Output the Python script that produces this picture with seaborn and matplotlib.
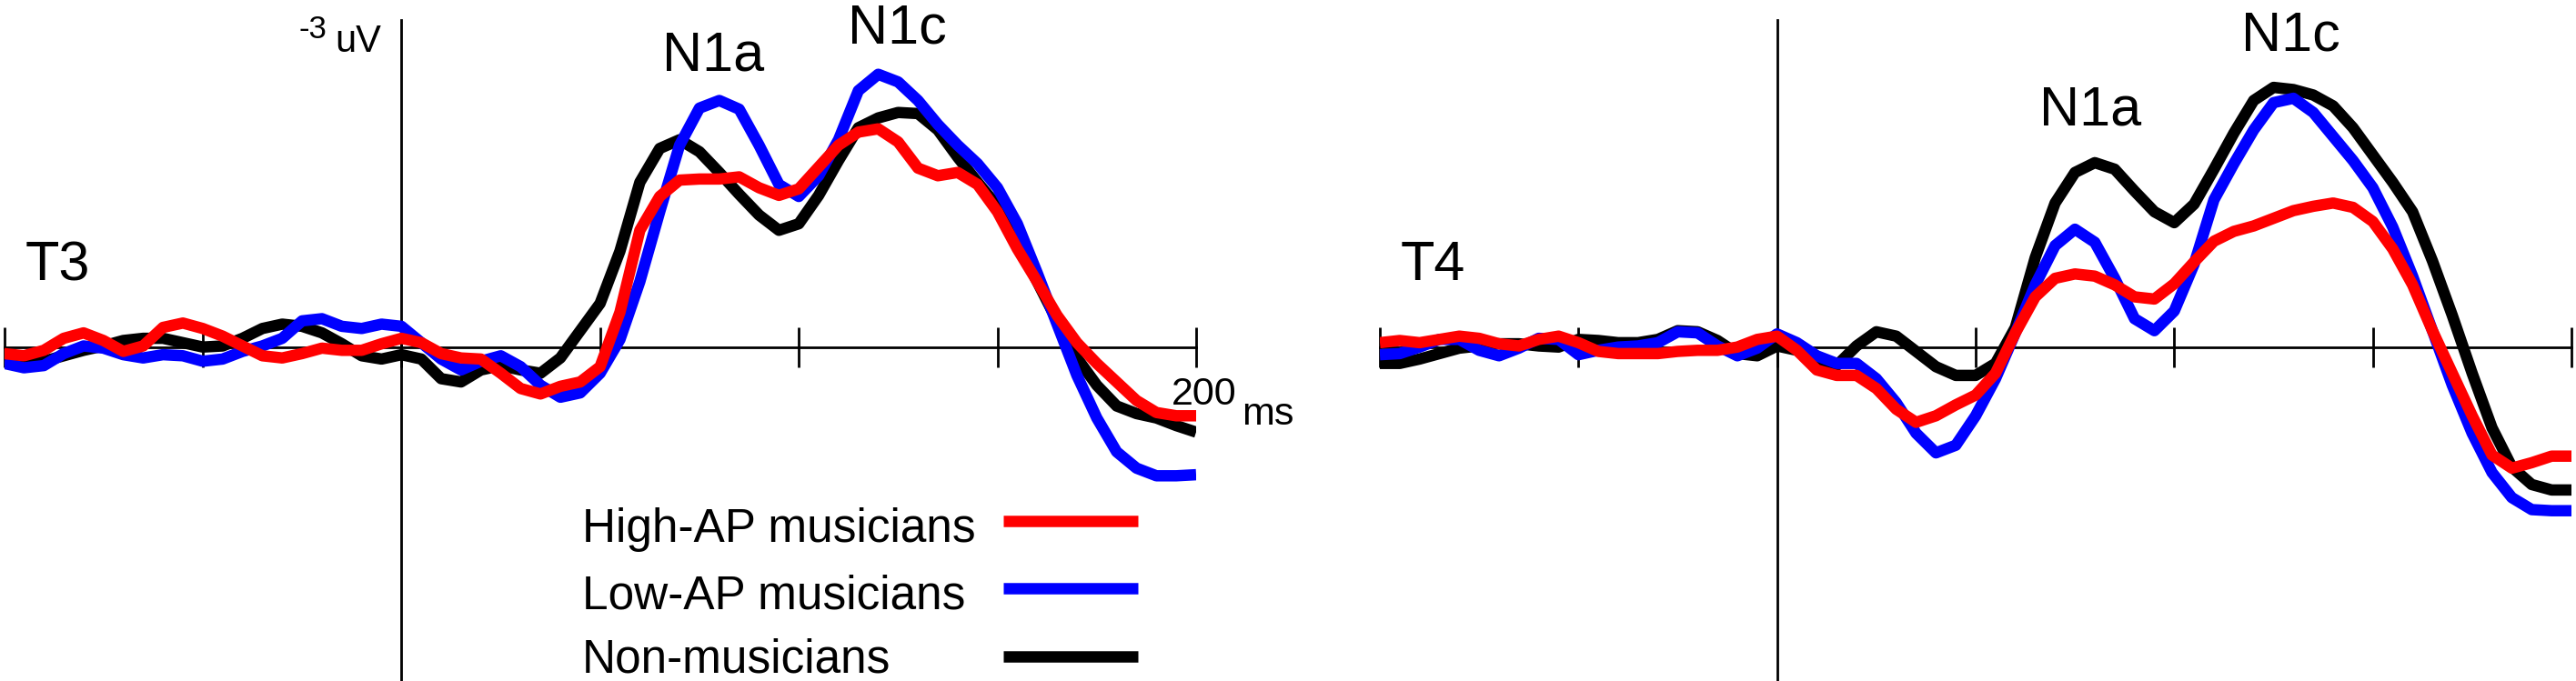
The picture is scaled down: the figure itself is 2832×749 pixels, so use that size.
import numpy as np
import pandas as pd
import matplotlib.pyplot as plt
from matplotlib.lines import Line2D
import seaborn as sns

# time axis (ms) and group names
time_ms = list(range(-100, 201, 5))
groups = ['High-AP musicians', 'Low-AP musicians', 'Non-musicians']
colors = {'High-AP musicians': '#ff0000',
          'Low-AP musicians': '#0000ff',
          'Non-musicians': '#000000'}

# amplitudes in uV (negative is drawn upward)
t3_high = [0.06, 0.08, 0.03, -0.08, -0.13, -0.06, 0.04, -0.01, -0.18, -0.22,
           -0.17, -0.10, -0.01, 0.08, 0.10, 0.06, 0.01, 0.03, 0.03, -0.03,
           -0.08, -0.04, 0.06, 0.10, 0.11, 0.24, 0.38, 0.43, 0.36, 0.32,
           0.18, -0.32, -1.07, -1.38, -1.53, -1.54, -1.54, -1.56, -1.46, -1.39,
           -1.45, -1.65, -1.85, -1.97, -2.00, -1.88, -1.64, -1.57, -1.60, -1.49,
           -1.24, -0.90, -0.60, -0.29, -0.04, 0.15, 0.32, 0.49, 0.60, 0.63,
           0.63]
t3_low = [0.15, 0.19, 0.17, 0.06, -0.01, 0.01, 0.07, 0.10, 0.07, 0.08,
          0.13, 0.11, 0.04, -0.01, -0.08, -0.24, -0.26, -0.19, -0.17, -0.21,
          -0.19, -0.04, 0.11, 0.21, 0.13, 0.08, 0.18, 0.35, 0.46, 0.42,
          0.24, -0.07, -0.60, -1.24, -1.85, -2.19, -2.26, -2.18, -1.85, -1.49,
          -1.38, -1.57, -1.90, -2.35, -2.50, -2.43, -2.26, -2.04, -1.85, -1.68,
          -1.46, -1.13, -0.68, -0.21, 0.26, 0.65, 0.96, 1.11, 1.18, 1.18,
          1.17]
t3_non = [0.07, 0.11, 0.13, 0.08, 0.03, -0.01, -0.06, -0.08, -0.08, -0.04,
          0.00, -0.01, -0.08, -0.17, -0.21, -0.19, -0.13, -0.03, 0.08, 0.11,
          0.07, 0.11, 0.29, 0.32, 0.21, 0.17, 0.21, 0.24, 0.10, -0.15,
          -0.40, -0.88, -1.51, -1.82, -1.90, -1.79, -1.60, -1.40, -1.21, -1.07,
          -1.13, -1.39, -1.71, -2.01, -2.10, -2.15, -2.14, -1.99, -1.74, -1.51,
          -1.29, -0.96, -0.60, -0.24, 0.10, 0.35, 0.54, 0.61, 0.65, 0.72,
          0.78]

t4_high = [-0.04, -0.06, -0.04, -0.07, -0.10, -0.08, -0.03, -0.01, -0.07, -0.10,
           -0.04, 0.04, 0.06, 0.06, 0.06, 0.04, 0.03, 0.03, 0.00, -0.07,
           -0.10, 0.03, 0.21, 0.26, 0.26, 0.38, 0.57, 0.69, 0.63, 0.53,
           0.44, 0.24, -0.13, -0.46, -0.63, -0.67, -0.65, -0.57, -0.46, -0.44,
           -0.58, -0.78, -0.97, -1.06, -1.11, -1.18, -1.25, -1.29, -1.32, -1.28,
           -1.15, -0.90, -0.57, -0.15, 0.24, 0.63, 0.99, 1.11, 1.06, 1.00,
           1.00]
t4_low = [0.07, 0.06, 0.00, -0.07, -0.07, 0.03, 0.08, 0.01, -0.08, -0.07,
          0.07, 0.03, 0.00, -0.01, -0.04, -0.14, -0.13, -0.01, 0.08, 0.01,
          -0.12, -0.04, 0.08, 0.15, 0.15, 0.29, 0.51, 0.79, 0.97, 0.90,
          0.63, 0.29, -0.13, -0.57, -0.93, -1.08, -0.96, -0.63, -0.26, -0.15,
          -0.33, -0.76, -1.35, -1.68, -1.99, -2.24, -2.28, -2.15, -1.93, -1.71,
          -1.46, -1.10, -0.65, -0.15, 0.35, 0.79, 1.15, 1.38, 1.49, 1.50,
          1.50]
t4_non = [0.15, 0.15, 0.11, 0.06, 0.01, -0.01, -0.03, -0.03, -0.01, 0.00,
          -0.07, -0.06, -0.04, -0.04, -0.07, -0.15, -0.14, -0.06, 0.06, 0.08,
          -0.01, 0.03, 0.14, 0.17, -0.01, -0.14, -0.10, 0.04, 0.18, 0.26,
          0.26, 0.15, -0.18, -0.82, -1.32, -1.60, -1.69, -1.63, -1.43, -1.24,
          -1.14, -1.31, -1.63, -1.96, -2.26, -2.38, -2.36, -2.31, -2.21, -2.01,
          -1.76, -1.51, -1.24, -0.79, -0.29, 0.24, 0.74, 1.10, 1.26, 1.31,
          1.31]


def to_long(high, low, non):
    parts = []
    for name, vals in zip(groups, [high, low, non]):
        parts.append(pd.DataFrame({'time': time_ms, 'amp': vals, 'group': name}))
    return pd.concat(parts, ignore_index=True)


sns.set_style('white')
plt.rcParams['font.family'] = ['Liberation Sans', 'DejaVu Sans']
plt.rcParams['text.color'] = 'black'

W, H = 2832, 749
fig = plt.figure(figsize=(W / 100, H / 100), dpi=100)

# vertical scale: 0 uV at pixel row 381.7, 120 px per uV
y_top = (0 - 381.7) / 120
y_bot = (H - 381.7) / 120


def erp_axes(left_px, right_px, df):
    ax = fig.add_axes([left_px / W, 0, (right_px - left_px) / W, 1])
    sns.lineplot(data=df, x='time', y='amp', hue='group',
                 hue_order=groups[::-1], palette=colors,
                 linewidth=9, errorbar=None, legend=False, ax=ax,
                 solid_capstyle='butt', solid_joinstyle='round')
    ax.set_xlim(-100, 200)
    ax.set_ylim(y_bot, y_top)
    ax.set_xlabel('')
    ax.set_ylabel('')
    ax.patch.set_alpha(0)
    for s in ['top', 'right']:
        ax.spines[s].set_visible(False)
    ax.spines['left'].set_position(('data', 0))
    ax.spines['bottom'].set_position(('data', 0))
    ax.spines['left'].set_bounds(-3, y_bot)
    ax.spines['bottom'].set_bounds(-100, 200)
    for s in ['left', 'bottom']:
        ax.spines[s].set_linewidth(2)
        ax.spines[s].set_color('black')
        ax.spines[s].set_zorder(1)
    ax.set_xticks(range(-100, 201, 50))
    ax.set_yticks([])
    ax.tick_params(axis='x', direction='inout', length=31, width=2,
                   color='black', labelbottom=False, bottom=True)
    return ax


ax3 = erp_axes(4.5, 1315, to_long(t3_high, t3_low, t3_non))
ax4 = erp_axes(1517, 2827, to_long(t4_high, t4_low, t4_non))


def label(x, y, s, size):
    fig.text(x / W, 1 - y / H, s, fontsize=size, ha='left', va='baseline')


label(28, 308, 'T3', 44)
label(728, 78, 'N1a', 44)
label(932, 48, 'N1c', 44)
label(328, 42, '-3', 25)
label(368, 57, 'uV', 30)
label(1288, 445, '200', 31)
label(1365, 467, 'ms', 31)

label(1540, 308, 'T4', 44)
label(2242, 138, 'N1a', 44)
label(2464, 55, 'N1c', 44)

# legend: text on the left, colour key on the right
legend_baselines = [596, 669, 740]
legend_keys = [573, 647, 722]
for g, yb, yk in zip(groups, legend_baselines, legend_keys):
    label(640, yb, g, 37)
    fig.add_artist(Line2D([1103 / W, 1251 / W], [1 - yk / H, 1 - yk / H],
                          transform=fig.transFigure, color=colors[g],
                          linewidth=9, solid_capstyle='butt'))

fig.savefig('out.png', dpi=100, facecolor='white')
